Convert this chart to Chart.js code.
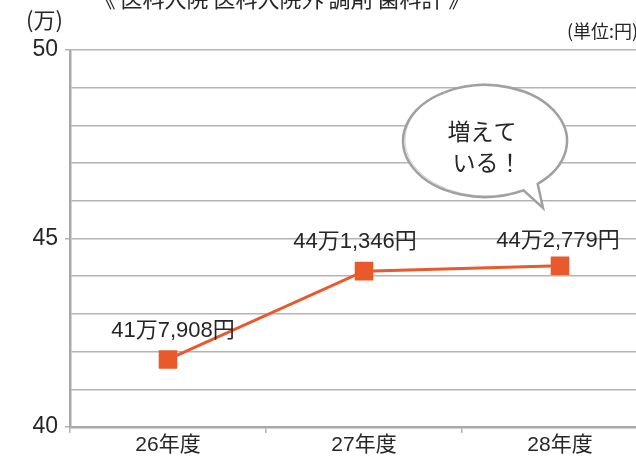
<!DOCTYPE html>
<html>
<head>
<meta charset="utf-8">
<script src="https://cdn.jsdelivr.net/npm/chart.js@4"></script>
<style>
  html, body { margin: 0; padding: 0; background: #fff; overflow: hidden; }
  #wrap { position: relative; width: 672px; height: 457px; }
</style>
</head>
<body>
<div id="wrap"><canvas id="chart" width="672" height="457"></canvas></div>
<script>
// 医療費の推移（単位:万円）
const years = ['26年度', '27年度', '28年度'];
const costs = [41.7908, 44.1346, 44.2779];
const costLabels = ['41万7,908円', '44万1,346円', '44万2,779円'];
const yTicksShown = [40, 45, 50];

const FONT = '"Liberation Sans", "Noto Sans CJK JP", sans-serif';
const JFONT = '"Noto Sans CJK JP", sans-serif';
const ORANGE = '#e9592c';
const GRID = '#b4b4b4';
const TEXT = '#262626';

// 値ラベル、吹き出し、見出し
const extras = {
    id: 'extras',
    afterDraw(chart) {
        const c = chart.ctx;
        const pts = chart.getDatasetMeta(0).data;
        const offs = [[5, -29], [-9, -29], [-2, -25]];
        c.save();
        c.fillStyle = TEXT;
        c.font = '22px ' + FONT;
        c.textAlign = 'center';
        c.textBaseline = 'middle';
        pts.forEach((p, i) => {
            c.fillText(costLabels[i], p.x + offs[i][0], p.y + offs[i][1]);
        });

        // 見出し（上が切れている）
        c.font = '22px ' + JFONT;
        c.textAlign = 'center';
        c.fillText('《 医科入院 医科入院外 調剤 歯科計 》', 282, -1);
        c.textAlign = 'left';
        c.font = '22px ' + JFONT;
        c.fillText('(万)', 26, 20);
        c.font = '18px ' + JFONT;
        c.fillText('(単位:円)', 567, 31);

        // 吹き出し
        const cx = 485, cy = 141, rx = 82, ry = 56;
        const d = Math.PI / 180;
        c.beginPath();
        c.ellipse(cx, cy, rx, ry, 0, 62 * d, 410 * d);
        c.lineTo(543, 208);
        c.closePath();
        c.fillStyle = '#fff';
        c.fill();
        c.strokeStyle = '#a0a0a0';
        c.lineWidth = 2.5;
        c.stroke();
        c.globalAlpha = 0.5;
        c.beginPath();
        c.ellipse(cx + 1, cy - 1, rx - 1, ry, 0, 62 * d, 410 * d);
        c.lineTo(542, 207);
        c.closePath();
        c.lineWidth = 1;
        c.stroke();
        c.globalAlpha = 1;

        c.fillStyle = TEXT;
        c.font = '23px ' + JFONT;
        c.textAlign = 'center';
        c.fillText('増えて', 482, 131);
        c.fillText('いる！', 487, 162);
        c.restore();
    }
};

new Chart(document.getElementById('chart').getContext('2d'), {
    type: 'line',
    data: {
        labels: years,
        datasets: [{
            data: costs,
            borderColor: ORANGE,
            backgroundColor: ORANGE,
            borderWidth: 3,
            pointStyle: 'rect',
            pointRadius: 11,
            pointHoverRadius: 11,
            tension: 0
        }]
    },
    options: {
        responsive: false,
        animation: false,
        layout: { padding: { top: 50, left: 0, right: 0, bottom: 0 } },
        plugins: {
            legend: { display: false },
            tooltip: { enabled: false }
        },
        scales: {
            x: {
                offset: true,
                grid: {
                    drawOnChartArea: false,
                    offset: true,
                    tickLength: 6,
                    tickColor: GRID,
                    lineWidth: 1.5
                },
                border: { color: '#a8a8a8', width: 2.5 },
                ticks: {
                    color: TEXT,
                    font: { family: FONT, size: 21 },
                    padding: 0
                },
                afterFit(scale) { scale.height = 30; }
            },
            y: {
                min: 40,
                max: 50,
                grid: {
                    color: GRID,
                    lineWidth: 1.5,
                    tickLength: 5,
                    tickColor: ctx => yTicksShown.includes(ctx.tick.value) ? GRID : 'rgba(0,0,0,0)'
                },
                border: { color: '#a8a8a8', width: 2.5 },
                ticks: {
                    stepSize: 1,
                    color: TEXT,
                    font: { family: FONT, size: 23 },
                    padding: 7,
                    callback: v => yTicksShown.includes(v) ? v : ''
                },
                afterFit(scale) { scale.width = 70; }
            }
        }
    },
    plugins: [extras]
});
</script>
</body>
</html>
